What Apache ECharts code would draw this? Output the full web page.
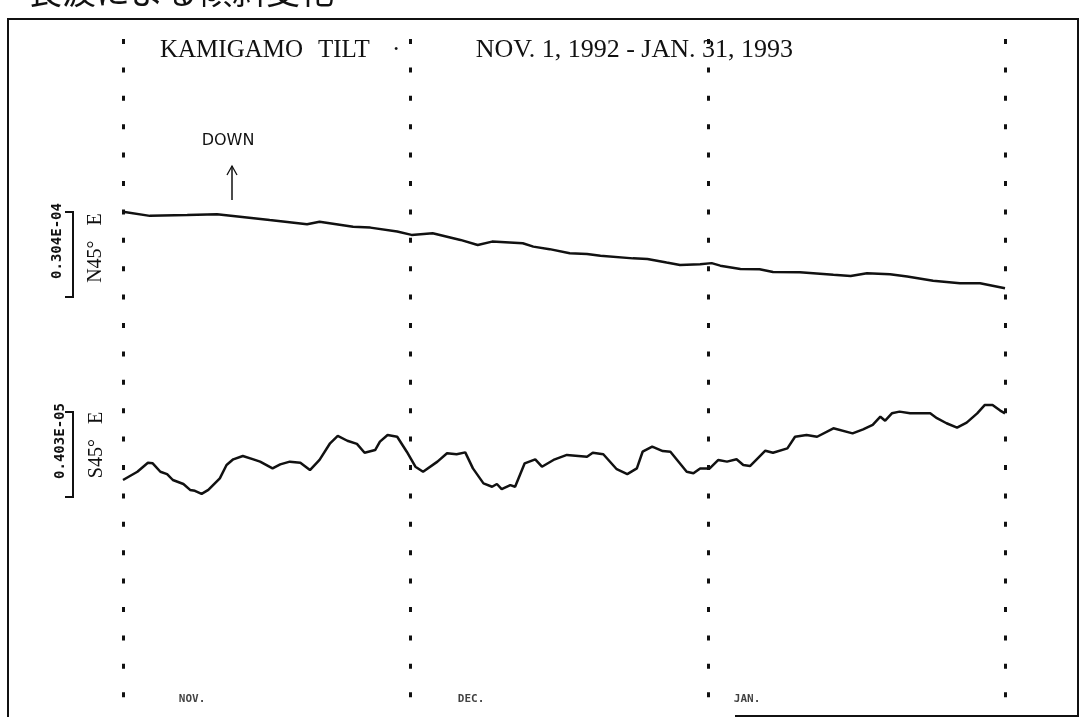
<!DOCTYPE html>
<html>
<head>
<meta charset="utf-8">
<script src="https://cdn.jsdelivr.net/npm/echarts@6/dist/echarts.min.js"></script>
<style>
  html, body { margin: 0; padding: 0; background: #fff; }
  #chart { width: 1085px; height: 717px; }
</style>
</head>
<body>
<div id="chart"></div>
<script>
// days counted from Nov. 1, 1992
const monthStarts = [0, 30, 61, 92];
const monthNames = ['NOV.', 'DEC.', 'JAN.'];
const monthLabelDays = [7.2, 36.3, 65.1];

// N45°E component, micro-radians relative to Nov. 1
const n45Days = [0, 2.8, 6.7, 9.8, 12.2, 15.3, 19.2, 20.5, 24, 25.8, 28.6, 30.1, 32.3, 35.2, 37, 38.5,
  41.7, 42.8, 44.5, 46.6, 48.4, 49.8, 53.2, 54.7, 56.7, 58.1, 60.2, 61.4, 62.3, 64.4, 66.4, 67.8,
  70.6, 74.1, 75.9, 77.6, 80, 81.8, 84.5, 87.3, 89.4, 92];
const n45Vals = [0.1, -1.4, -1.1, -0.8, -1.7, -2.9, -4.4, -3.5, -5.3, -5.6, -7.0, -8.2, -7.6, -10.0, -11.8, -10.6,
  -11.2, -12.4, -13.3, -14.8, -15.0, -15.7, -16.6, -16.8, -18.1, -19.0, -18.7, -18.3, -19.2, -20.4, -20.5, -21.5,
  -21.6, -22.5, -22.9, -21.9, -22.3, -23.1, -24.6, -25.5, -25.5, -27.3];

// S45°E component, micro-radians relative to Nov. 1
const s45Days = [0, 1.5, 2.6, 3.1, 3.9, 4.6, 5.2, 6.3, 7.0, 7.5, 8.2, 8.9, 10.1, 10.8, 11.5, 12.5, 13.6, 14.3,
  15.6, 16.4, 17.4, 18.5, 19.5, 20.5, 21.6, 22.4, 23.4, 24.4, 25.2, 26.3, 26.8, 27.6, 28.6, 29.6, 30.5, 31.3,
  32.8, 33.8, 34.8, 35.7, 36.5, 37.6, 38.5, 39.0, 39.5, 40.4, 40.9, 41.9, 43.0, 43.7, 44.9, 46.3, 48.4, 49.0,
  50.1, 51.5, 52.6, 53.6, 54.2, 55.2, 56.3, 57.1, 57.8, 58.8, 59.5, 60.2, 61.2, 62.1, 63.0, 64.0, 64.7, 65.4,
  66.1, 67.0, 67.8, 69.3, 70.1, 71.3, 72.4, 74.1, 76.1, 77.2, 78.2, 79.0, 79.5, 80.2, 81.0, 82.1, 83.1, 84.2,
  84.9, 85.9, 87.0, 88.0, 89.1, 89.9, 90.7, 91.5, 92];
const s45Vals = [0, 0.39, 0.82, 0.79, 0.39, 0.28, 0, -0.19, -0.47, -0.51, -0.66, -0.47, 0.08, 0.71, 0.98, 1.14, 0.98, 0.87,
  0.55, 0.74, 0.87, 0.82, 0.47, 0.95, 1.74, 2.09, 1.86, 1.71, 1.29, 1.42, 1.82, 2.13, 2.05, 1.34, 0.63, 0.39,
  0.87, 1.27, 1.22, 1.31, 0.55, -0.16, -0.32, -0.19, -0.43, -0.24, -0.32, 0.79, 0.98, 0.63, 0.95, 1.19, 1.10, 1.29,
  1.22, 0.51, 0.28, 0.55, 1.34, 1.58, 1.37, 1.34, 0.95, 0.39, 0.32, 0.55, 0.55, 0.95, 0.87, 0.98, 0.71, 0.66,
  0.98, 1.39, 1.29, 1.50, 2.05, 2.13, 2.05, 2.45, 2.21, 2.40, 2.61, 3.00, 2.81, 3.16, 3.24, 3.16, 3.16, 3.16,
  2.93, 2.69, 2.48, 2.72, 3.16, 3.56, 3.56, 3.29, 3.16];

// scale bars: [start value, length] in micro-radians, with their labels
const n45Bar = [0, 30.4];
const s45Bar = [3.22, 4.03];
const n45BarLabel = '0.304E-04';
const s45BarLabel = '0.403E-05';

const INK = '#111';
const chart = echarts.init(document.getElementById('chart'));

const hiddenX = (i) => ({ type: 'value', gridIndex: i, min: 0, max: 92, show: false });

chart.setOption({
  backgroundColor: '#fff',
  animation: false,
  grid: [
    { left: 123, width: 882, top: 39, height: 680 },
    { left: 123, width: 882, top: 184, height: 139.8 },
    { left: 123, width: 882, top: 395.6, height: 105.5 },
  ],
  xAxis: [hiddenX(0), hiddenX(1), hiddenX(2)],
  yAxis: [
    { type: 'value', gridIndex: 0, min: 0, max: 1, show: false },
    { type: 'value', gridIndex: 1, min: -40, max: 10, show: false },
    { type: 'value', gridIndex: 2, min: -1, max: 4, show: false },
  ],
  series: [
    {
      type: 'scatter', xAxisIndex: 0, yAxisIndex: 0, symbolSize: 0,
      data: monthLabelDays.map((d, i) => ({ value: [d, 0.026], name: monthNames[i] })),
      label: {
        show: true, position: 'inside', formatter: (p) => p.name, color: INK,
        fontFamily: 'DejaVu Sans Mono', fontWeight: 'bold', fontSize: 11,
      },
      markLine: {
        silent: true, symbol: 'none', animation: false,
        label: { show: false },
        lineStyle: { color: INK, width: 3, type: [5, 23.4], cap: 'butt' },
        data: monthStarts.map(d => [{ coord: [d, 1] }, { coord: [d, 0] }]),
      },
    },
    {
      type: 'line', xAxisIndex: 1, yAxisIndex: 1, showSymbol: false,
      lineStyle: { color: INK, width: 2.5 },
      data: n45Days.map((d, i) => [d, n45Vals[i]]),
    },
    {
      type: 'line', xAxisIndex: 2, yAxisIndex: 2, showSymbol: false,
      lineStyle: { color: INK, width: 2.5 },
      data: s45Days.map((d, i) => [d, s45Vals[i]]),
    },
  ],
});

function bracket(gridIndex, bar) {
  const top = chart.convertToPixel({ gridIndex }, [0, bar[0]])[1];
  const bot = chart.convertToPixel({ gridIndex }, [0, bar[0] - bar[1]])[1];
  return {
    type: 'polyline', silent: true,
    shape: { points: [[65, top], [73, top], [73, bot], [65, bot]] },
    style: { stroke: INK, lineWidth: 2, fill: null },
  };
}

const serif = 'Liberation Serif';
const vText = (x, y, text, font) => ({
  type: 'text', x, y, rotation: Math.PI / 2, silent: true,
  style: Object.assign({ text, fill: INK, align: 'center', verticalAlign: 'middle' }, font),
});
const titleText = (x, text, align) => ({
  type: 'text', x, y: 50, silent: true,
  style: { text, fill: INK, fontFamily: serif, fontSize: 25, align: align || 'left', verticalAlign: 'middle' },
});

chart.setOption({
  graphic: [
    // frame
    { type: 'polyline', shape: { points: [[8, 717], [8, 19], [1078, 19], [1078, 717]] },
      style: { stroke: INK, lineWidth: 2, fill: null } },
    { type: 'line', shape: { x1: 735, y1: 716, x2: 1078, y2: 716 }, style: { stroke: INK, lineWidth: 2 } },
    // clipped caption above the frame
    { type: 'text', x: 28, y: -9, style: { text: '長波による傾斜変化', fill: INK,
      font: '34px "Noto Sans CJK JP"', verticalAlign: 'middle' } },
    // title
    titleText(160, 'KAMIGAMO'),
    titleText(318, 'TILT'),
    titleText(392, '·'),
    { type: 'text', x: 793, y: 50, silent: true,
      style: { text: 'NOV. 1, 1992 - JAN. 31, 1993', fill: INK, fontFamily: serif, fontSize: 26,
        align: 'right', verticalAlign: 'middle' } },
    // DOWN arrow
    { type: 'text', x: 228, y: 141, style: { text: 'DOWN', fill: INK, fontFamily: 'DejaVu Sans', fontSize: 16,
      align: 'center', verticalAlign: 'middle' } },
    { type: 'polyline', shape: { points: [[232, 200], [232, 166]] }, style: { stroke: INK, lineWidth: 1.5, fill: null } },
    { type: 'polyline', shape: { points: [[227, 175], [232, 166], [237, 175]] }, style: { stroke: INK, lineWidth: 1.3, fill: null } },
    // component labels and scale bars
    vText(96, 248, 'N45°   E', { fontFamily: serif, fontSize: 20 }),
    vText(97, 445, 'S45°   E', { fontFamily: serif, fontSize: 20 }),
    vText(57, 241, n45BarLabel, { fontFamily: 'DejaVu Sans Mono', fontWeight: 'bold', fontSize: 14 }),
    vText(60, 441, s45BarLabel, { fontFamily: 'DejaVu Sans Mono', fontWeight: 'bold', fontSize: 14 }),
    bracket(1, n45Bar),
    bracket(2, s45Bar),
  ],
});
</script>
</body>
</html>
